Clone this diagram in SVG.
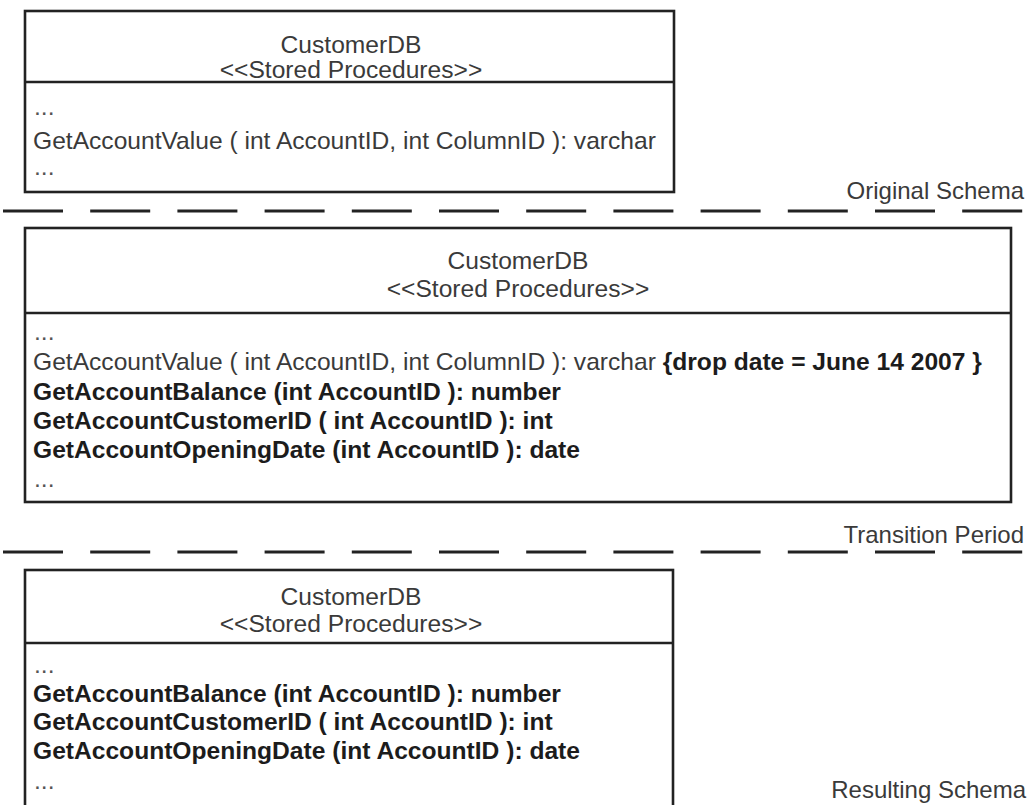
<svg xmlns="http://www.w3.org/2000/svg" width="1032" height="805" viewBox="0 0 1032 805">
<style>
  .box { fill: #ffffff; stroke: #222222; stroke-width: 2.6; }
  .div { stroke: #222222; stroke-width: 2.6; }
  .sep { stroke: #222222; stroke-width: 3; stroke-dasharray: 60 27.2; fill: none; }
  text { font-family: "Liberation Sans", Arial, Helvetica, sans-serif; font-size: 24.6px; }
  .reg { fill: #3a3a3a; }
  .bold { fill: #1c1c1c; font-weight: bold; }
  .dots { fill: #555555; }
  .ttl { text-anchor: middle; fill: #3a3a3a; }
  .lbl { text-anchor: end; fill: #3a3a3a; font-size: 24px; }
</style>
<rect width="1032" height="805" fill="#ffffff"/>

<g id="separators">
  <line class="sep" x1="3" y1="211" x2="1024" y2="211"/>
  <line class="sep" x1="3" y1="552" x2="1024" y2="552"/>
</g>

<g id="original-schema">
  <rect class="box" x="25" y="11" width="649" height="181"/>
  <line class="div" x1="25" y1="82" x2="674" y2="82"/>
  <text class="ttl" x="351" y="53">CustomerDB</text>
  <text class="ttl" x="351" y="78">&lt;&lt;Stored Procedures&gt;&gt;</text>
  <text class="dots" x="34" y="115">...</text>
  <text class="reg" x="33" y="149">GetAccountValue ( int AccountID, int ColumnID ): varchar</text>
  <text class="dots" x="34" y="175">...</text>
</g>

<g id="transition-period">
  <rect class="box" x="25" y="228" width="986" height="274"/>
  <line class="div" x1="25" y1="313" x2="1011" y2="313"/>
  <text class="ttl" x="518" y="269">CustomerDB</text>
  <text class="ttl" x="518" y="297">&lt;&lt;Stored Procedures&gt;&gt;</text>
  <text class="dots" x="34" y="340">...</text>
  <text x="33" y="370"><tspan class="reg">GetAccountValue ( int AccountID, int ColumnID ): varchar </tspan><tspan class="bold">{drop date = June 14 2007 }</tspan></text>
  <text class="bold" x="33" y="400">GetAccountBalance (int AccountID ): number</text>
  <text class="bold" x="33" y="429">GetAccountCustomerID ( int AccountID ): int</text>
  <text class="bold" x="33" y="458">GetAccountOpeningDate (int AccountID ): date</text>
  <text class="dots" x="34" y="487">...</text>
</g>

<g id="resulting-schema">
  <rect class="box" x="25" y="570" width="648" height="245"/>
  <line class="div" x1="25" y1="643" x2="673" y2="643"/>
  <text class="ttl" x="351" y="605">CustomerDB</text>
  <text class="ttl" x="351" y="632">&lt;&lt;Stored Procedures&gt;&gt;</text>
  <text class="dots" x="34" y="673">...</text>
  <text class="bold" x="33" y="702">GetAccountBalance (int AccountID ): number</text>
  <text class="bold" x="33" y="730">GetAccountCustomerID ( int AccountID ): int</text>
  <text class="bold" x="33" y="759">GetAccountOpeningDate (int AccountID ): date</text>
  <text class="dots" x="34" y="789">...</text>
</g>

<g id="labels">
  <text class="lbl" x="1024" y="199">Original Schema</text>
  <text class="lbl" x="1024" y="543">Transition Period</text>
  <text class="lbl" x="1026" y="798">Resulting Schema</text>
</g>
</svg>
